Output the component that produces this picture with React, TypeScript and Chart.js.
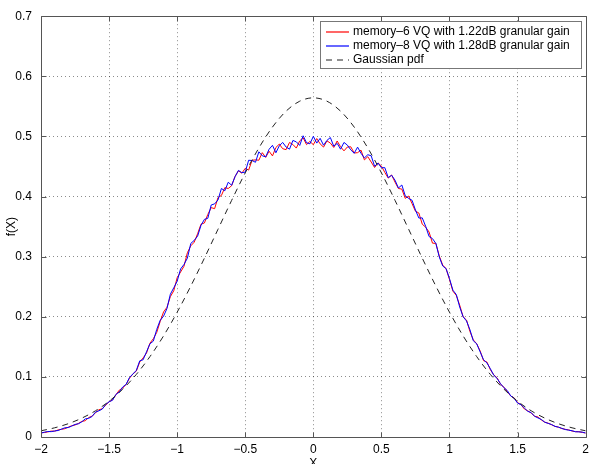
import React, { useEffect, useRef } from 'react';
import { Chart, registerables } from 'chart.js';

Chart.register(...registerables);

// Sample grid of the measured histograms: x from -2 to 2 in steps of 0.025
const X_START = -2;
const X_STEP = 0.025;
const GAUSS_STEP = 0.1;

const SERIES_LABELS = [
  'memory–6 VQ with 1.22dB granular gain',
  'memory–8 VQ with 1.28dB granular gain',
  'Gaussian pdf',
];
const SERIES_COLORS = ['#ff0000', '#0000ff', '#222222'];
const SERIES_DASH = [[], [], [6, 5]];

const MEMORY6 = [
  .0073, .0074, .0085, .0098, .0097, .0117, .0128, .0138, .0163, .0187,
  .0200, .0226, .0259, .0271, .0323, .0347, .0402, .0453, .0470, .0530,
  .0586, .0617, .0702, .0779, .0814, .0875, .0978, .1049, .1096, .1247,
  .1315, .1397, .1560, .1635, .1740, .1920, .2080, .2157, .2335, .2432,
  .2650, .2745, .2840, .3065, .3180, .3240, .3380, .3540, .3560, .3702,
  .3816, .3798, .3984, .4018, .4148, .4134, .4180, .4334, .4427, .4389,
  .4470, .4440, .4603, .4610, .4604, .4730, .4652, .4754, .4676, .4816,
  .4872, .4796, .4780, .4900, .4865, .4806, .4926, .4979, .4864, .4917,
  .4862,
  .4965, .4876, .4823, .4926, .4890, .4817, .4924, .4828, .4760, .4824,
  .4828, .4724, .4730, .4772, .4610, .4664, .4574, .4483, .4560, .4506,
  .4401, .4307, .4358, .4240, .4134, .4124, .3970, .4008, .3882, .3756,
  .3726, .3540, .3490, .3410, .3225, .3220, .3010, .2860, .2800, .2620,
  .2427, .2355, .2192, .2000, .1945, .1755, .1615, .1550, .1432, .1270,
  .1247, .1120, .1035, .0982, .0877, .0828, .0755, .0682, .0651, .0572,
  .0538, .0466, .0435, .0398, .0345, .0333, .0283, .0246, .0230, .0203,
  .0177, .0164, .0140, .0128, .0118, .0100, .0088, .0089, .0077, .0066,
];

const MEMORY8 = [
  .0064, .0080, .0091, .0089, .0100, .0108, .0131, .0153, .0157, .0181,
  .0209, .0220, .0253, .0301, .0311, .0341, .0414, .0435, .0464, .0542,
  .0586, .0611, .0708, .0749, .0832, .0875, .0990, .1049, .1108, .1267,
  .1285, .1417, .1550, .1595, .1790, .1940, .2010, .2137, .2375, .2482,
  .2590, .2795, .2870, .2975, .3220, .3270, .3340, .3520, .3620, .3638,
  .3860, .3878, .3944, .4134, .4096, .4238, .4188, .4330, .4435, .4397,
  .4406, .4604, .4599, .4570, .4744, .4678, .4660, .4786, .4852, .4728,
  .4844, .4900, .4824, .4788, .4933, .4910, .4850, .5011, .4896, .4877,
  .5002,
  .4889, .4968, .4855, .4934, .4982, .4837, .4884, .4788, .4900, .4856,
  .4776, .4720, .4822, .4720, .4642, .4696, .4678, .4503, .4556, .4478,
  .4481, .4315, .4354, .4272, .4142, .4192, .4014, .3968, .3938, .3776,
  .3642, .3645, .3505, .3335, .3300, .3220, .2995, .2845, .2800, .2635,
  .2442, .2370, .2162, .2000, .1930, .1785, .1600, .1550, .1417, .1285,
  .1232, .1136, .1027, .0974, .0885, .0820, .0771, .0682, .0643, .0564,
  .0538, .0482, .0427, .0406, .0345, .0317, .0291, .0246, .0226, .0207,
  .0177, .0164, .0144, .0124, .0114, .0104, .0088, .0085, .0081, .0066,
];

const GAUSSIAN = [
  .0103, .0153, .0221, .0314, .0436, .0595, .0795, .1041, .1337, .1682,
  .2076, .2510, .2975, .3456, .3936, .4394, .4808, .5156, .5421, .5586,
  .5642,
  .5586, .5421, .5156, .4808, .4394, .3936, .3456, .2975, .2510, .2076,
  .1682, .1337, .1041, .0795, .0595, .0436, .0314, .0221, .0153, .0103,
];

const FONT = '"Liberation Sans", Arial, Helvetica, sans-serif';

const frameTicks = {
  id: 'frameTicks',
  afterDatasetsDraw(chart: any) {
    const { ctx, chartArea: a, scales } = chart;
    ctx.save();
    ctx.strokeStyle = '#555';
    ctx.lineWidth = 1;
    ctx.setLineDash([]);
    ctx.beginPath();
    const L = Math.round(a.left) + 0.5, R = Math.round(a.right) + 0.5;
    const T = Math.round(a.top) + 0.5, B = Math.round(a.bottom) + 0.5;
    ctx.rect(L, T, R - L, B - T);
    const len = 5;
    scales.x.ticks.forEach((t: any) => {
      const p = Math.round(scales.x.getPixelForValue(t.value)) + 0.5;
      ctx.moveTo(p, B); ctx.lineTo(p, B - len);
      ctx.moveTo(p, T); ctx.lineTo(p, T + len);
    });
    scales.y.ticks.forEach((t: any) => {
      const p = Math.round(scales.y.getPixelForValue(t.value)) + 0.5;
      ctx.moveTo(L, p); ctx.lineTo(L + len, p);
      ctx.moveTo(R, p); ctx.lineTo(R - len, p);
    });
    ctx.stroke();
    ctx.restore();
  },
};

const boxLegend = {
  id: 'boxLegend',
  afterDraw(chart: any) {
    const { ctx, chartArea: a } = chart;
    const w = 261, h = 47;
    const x0 = Math.round(a.right) - 5 - w;
    const y0 = Math.round(a.top) + 5;
    ctx.save();
    ctx.fillStyle = '#fff';
    ctx.fillRect(x0, y0, w, h);
    ctx.strokeStyle = '#777';
    ctx.lineWidth = 1;
    ctx.setLineDash([]);
    ctx.strokeRect(x0 + 0.5, y0 + 0.5, w, h);
    SERIES_LABELS.forEach((label, i) => {
      const cy = y0 + 10 + i * 14;
      ctx.beginPath();
      ctx.setLineDash(SERIES_DASH[i]);
      ctx.strokeStyle = SERIES_COLORS[i];
      ctx.lineWidth = 1.2;
      ctx.moveTo(x0 + 6, cy + 1);
      ctx.lineTo(x0 + 29, cy + 1);
      ctx.stroke();
      ctx.setLineDash([]);
      ctx.fillStyle = '#000';
      ctx.font = `12px ${FONT}`;
      ctx.textBaseline = 'middle';
      ctx.fillText(label, x0 + 33, cy + 1);
    });
    ctx.restore();
  },
};

export default function App() {
  const ref = useRef<HTMLCanvasElement>(null);

  useEffect(() => {
    document.body.style.margin = '0';
    const pts = (arr: number[], step: number) =>
      arr.map((y, i) => ({ x: X_START + i * step, y }));

    const gridLine = (isEdge: (v: number) => boolean) => (c: any) =>
      c.tick && isEdge(c.tick.value) ? 0 : 1;

    const chart = new Chart(ref.current as HTMLCanvasElement, {
      type: 'line',
      data: {
        datasets: [
          {
            label: SERIES_LABELS[0],
            data: pts(MEMORY6, X_STEP),
            borderColor: SERIES_COLORS[0],
            borderWidth: 1,
            pointRadius: 0,
            tension: 0,
            order: 3,
          },
          {
            label: SERIES_LABELS[1],
            data: pts(MEMORY8, X_STEP),
            borderColor: SERIES_COLORS[1],
            borderWidth: 1,
            pointRadius: 0,
            tension: 0,
            order: 2,
          },
          {
            label: SERIES_LABELS[2],
            data: pts(GAUSSIAN, GAUSS_STEP),
            borderColor: SERIES_COLORS[2],
            borderWidth: 1,
            borderDash: SERIES_DASH[2],
            pointRadius: 0,
            cubicInterpolationMode: 'monotone',
            order: 1,
          },
        ] as any,
      },
      options: {
        animation: false,
        responsive: false,
        events: [],
        layout: { padding: { top: 8, right: 6, left: 0, bottom: 0 } },
        plugins: {
          legend: { display: false },
          tooltip: { enabled: false },
        },
        scales: {
          x: {
            type: 'linear',
            min: -2,
            max: 2,
            border: { display: false, dash: [1, 3] },
            grid: {
              color: 'rgba(0,0,0,0.45)',
              drawTicks: false,
              lineWidth: gridLine((v) => Math.abs(Math.abs(v) - 2) < 1e-9),
            } as any,
            ticks: {
              stepSize: 0.5,
              padding: 5,
              color: '#000',
              font: { family: FONT, size: 12 },
              maxRotation: 0,
              callback: (v: any) => String(Math.round(Number(v) * 10) / 10).replace('-', '\u2212'),
            },
            title: {
              display: true,
              text: 'X',
              color: '#000',
              font: { family: FONT, size: 12 },
              padding: { top: 0, bottom: -7 },
            },
            afterFit: (s: any) => { s.height = 27; },
          } as any,
          y: {
            type: 'linear',
            min: 0,
            max: 0.7,
            border: { display: false, dash: [1, 3] },
            grid: {
              color: 'rgba(0,0,0,0.45)',
              drawTicks: false,
              lineWidth: gridLine((v) => v < 1e-9 || Math.abs(v - 0.7) < 1e-9),
            } as any,
            ticks: {
              stepSize: 0.1,
              padding: 9,
              color: '#000',
              font: { family: FONT, size: 12 },
              callback: (v: any) => String(Math.round(Number(v) * 10) / 10),
            },
            title: {
              display: true,
              text: 'f(X)',
              color: '#000',
              font: { family: FONT, size: 12 },
              padding: { top: 4, bottom: 0 },
            },
            afterFit: (s: any) => { s.width = 41; },
          } as any,
        },
      },
      plugins: [frameTicks, boxLegend],
    });

    return () => chart.destroy();
  }, []);

  return (
    <div style={{ width: 594, height: 464 }}>
      <canvas ref={ref} width={594} height={464} style={{ display: 'block' }} />
    </div>
  );
}
